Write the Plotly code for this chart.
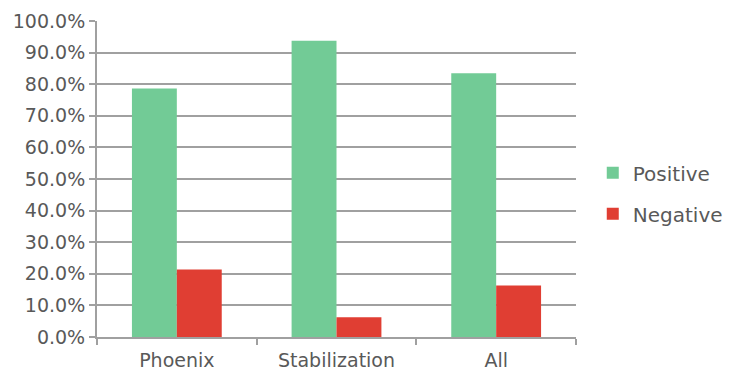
import plotly.graph_objects as go

categories = ["Phoenix", "Stabilization", "All"]
positive = [0.786, 0.9375, 0.835]
negative = [0.214, 0.0625, 0.163]
tick_vals = [i / 10 for i in range(11)]
tick_text = [f"{v*100:.1f}%" for v in tick_vals]

font_family = "DejaVu Sans, sans-serif"
text_color = "#595959"
grid_color = "#A0A0A0"

fig = go.Figure()
fig.add_trace(go.Bar(name="Positive", x=categories, y=positive, legendgroup="p",
                     marker=dict(color="#72CB96", line=dict(width=0))))
fig.add_trace(go.Bar(name="Negative", x=categories, y=negative, legendgroup="n",
                     marker=dict(color="#E03E33", line=dict(width=0))))

fig.update_layout(
    width=729, height=374,
    margin=dict(l=97, r=153, t=21, b=37, autoexpand=False),
    paper_bgcolor="white", plot_bgcolor="white",
    barmode="group", bargap=0.4375, bargroupgap=0,
    font=dict(family=font_family, color=text_color, size=18),
    legend=dict(x=1.035, y=0.455, xanchor="left", yanchor="middle",
                font=dict(size=20, color=text_color),
                tracegroupgap=12, itemwidth=30, bgcolor="rgba(0,0,0,0)"),
    showlegend=True,
)
fig.update_yaxes(range=[0, 1], tickvals=tick_vals, ticktext=tick_text,
                 showgrid=True, gridcolor=grid_color, gridwidth=2,
                 showline=True, linecolor=grid_color, linewidth=2,
                 ticks="outside", ticklen=6, tickcolor=grid_color, tickwidth=2,
                 zeroline=False, automargin=False,
                 tickfont=dict(size=19, color=text_color))
fig.update_xaxes(showline=True, linecolor=grid_color, linewidth=2,
                 ticks="outside", tickson="boundaries", ticklen=6,
                 tickcolor=grid_color, tickwidth=2, ticklabelstandoff=5,
                 automargin=False,
                 tickfont=dict(size=19, color=text_color))

fig.write_html("out.html")
